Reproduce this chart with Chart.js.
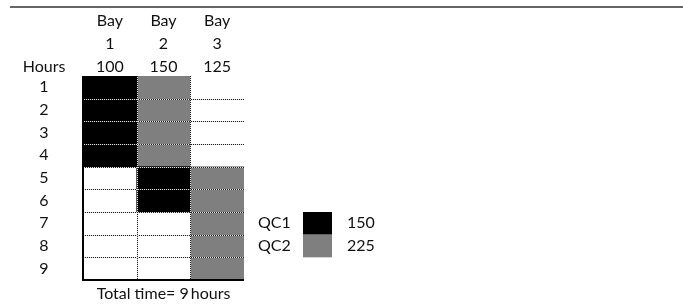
<!DOCTYPE html>
<html><head><meta charset="utf-8">
<script src="https://cdn.jsdelivr.net/npm/chart.js@4"></script>
<style>html,body{margin:0;padding:0;background:#fff;}canvas{display:block;}</style>
</head><body>
<canvas id="c" width="683" height="308"></canvas>
<script>
const bays = ['1', '2', '3'];
const bayLoads = [100, 150, 125];
const hourLabels = ['1', '2', '3', '4', '5', '6', '7', '8', '9'];
const qcNames = ['QC1', 'QC2'];
const qcTotals = [150, 225];
const qc1Spans = [[0, 4], [4, 6], null];
const qc2Spans = [null, [0, 4], [4, 9]];
const totalHours = 9;

const FONT = '16px Lato, "Open Sans", sans-serif';
const TXT = '#111';

function dotted(ctx, x1, y1, x2, y2) {
  ctx.lineWidth = 1;
  ctx.setLineDash([1, 1]);
  ctx.lineDashOffset = 0;
  ctx.strokeStyle = '#222';
  ctx.beginPath(); ctx.moveTo(x1, y1); ctx.lineTo(x2, y2); ctx.stroke();
  ctx.lineDashOffset = 1;
  ctx.strokeStyle = '#ddd';
  ctx.beginPath(); ctx.moveTo(x1, y1); ctx.lineTo(x2, y2); ctx.stroke();
  ctx.setLineDash([]);
}

const overlay = {
  id: 'overlay',
  afterDatasetsDraw(chart) {
    const { ctx, chartArea: a, scales: { x, y } } = chart;
    ctx.save();
    for (let h = 1; h < totalHours; h++) {
      const py = Math.round(y.getPixelForValue(h)) + 0.5;
      dotted(ctx, a.left, py, a.right, py);
    }
    for (let i = 0; i < bays.length - 1; i++) {
      const px = Math.round((x.getPixelForValue(i) + x.getPixelForValue(i + 1)) / 2) + 0.5;
      dotted(ctx, px, a.top, px, a.bottom);
    }
    ctx.strokeStyle = '#000';
    ctx.lineWidth = 2;
    ctx.beginPath();
    ctx.moveTo(a.left, a.top);
    ctx.lineTo(a.left, a.bottom);
    ctx.lineTo(a.right, a.bottom);
    ctx.stroke();

    ctx.fillStyle = TXT;
    ctx.font = FONT;
    ctx.textAlign = 'center';
    ctx.textBaseline = 'middle';
    bays.forEach((b, i) => {
      const px = x.getPixelForValue(i);
      ctx.fillText('Bay', px, 21);
      ctx.fillText(b, px, 44);
      ctx.fillText(String(bayLoads[i]), px, 67);
    });
    const labX = 44;
    ctx.fillText('Hours', labX, 67);
    hourLabels.forEach((h, i) => {
      ctx.fillText(h, labX, (y.getPixelForValue(i) + y.getPixelForValue(i + 1)) / 2);
    });
    ctx.fillText('Total time= ' + totalHours + '\u2009hours', x.getPixelForValue(1), a.bottom + 14);

    const colors = ['#000000', '#7f7f7f'];
    qcNames.forEach((n, i) => {
      const y0 = y.getPixelForValue(6 + i), y1 = y.getPixelForValue(7 + i);
      ctx.fillStyle = colors[i];
      ctx.fillRect(303, y0, 29, y1 - y0);
      ctx.fillStyle = TXT;
      ctx.textAlign = 'left';
      ctx.fillText(n, 258, (y0 + y1) / 2);
      ctx.fillText(String(qcTotals[i]), 347, (y0 + y1) / 2);
    });
    ctx.restore();
  },
  afterDraw(chart) {
    const ctx = chart.ctx;
    ctx.save();
    ctx.strokeStyle = '#333';
    ctx.lineWidth = 1.5;
    ctx.beginPath(); ctx.moveTo(10, 7); ctx.lineTo(683, 7); ctx.stroke();
    ctx.restore();
  }
};

new Chart(document.getElementById('c'), {
  type: 'bar',
  data: {
    labels: bays,
    datasets: [
      { label: qcNames[0], data: qc1Spans, backgroundColor: '#000000', borderWidth: 0, grouped: false, categoryPercentage: 1, barPercentage: 1 },
      { label: qcNames[1], data: qc2Spans, backgroundColor: '#7f7f7f', borderWidth: 0, grouped: false, categoryPercentage: 1, barPercentage: 1 }
    ]
  },
  options: {
    responsive: false,
    animation: false,
    devicePixelRatio: 1,
    layout: { padding: { left: 83, right: 439, top: 76, bottom: 28 } },
    plugins: { legend: { display: false }, tooltip: { enabled: false } },
    scales: {
      x: { display: false },
      y: { display: false, min: 0, max: totalHours, reverse: true }
    }
  },
  plugins: [overlay]
});
</script>
</body></html>
